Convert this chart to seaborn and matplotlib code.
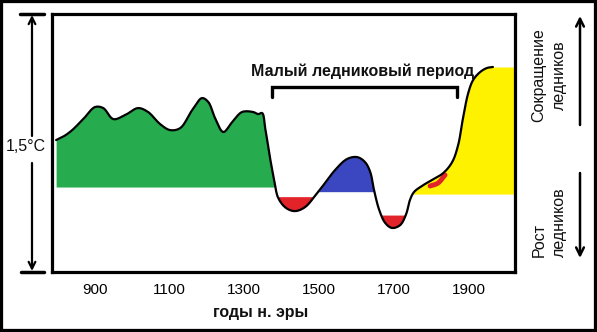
import numpy as np
import pandas as pd
import matplotlib
matplotlib.use("Agg")
import matplotlib.pyplot as plt
from matplotlib.lines import Line2D
from matplotlib.patches import FancyArrowPatch, Rectangle
import seaborn as sns

sns.set_style("white")
plt.rcParams["font.family"] = ["Liberation Sans", "DejaVu Sans"]

# Temperature curve (anomaly, °C) over the last millennium
years = [797, 819, 840, 872, 901, 923, 950, 982, 1016, 1043, 1075, 1102, 1129,
         1161, 1187, 1204, 1222, 1244, 1268, 1294, 1324, 1337, 1348, 1356, 1369,
         1380, 1391, 1412, 1436, 1463, 1489, 1516, 1543, 1575, 1602, 1623, 1637,
         1647, 1661, 1677, 1695, 1717, 1733, 1743, 1754, 1775, 1802, 1832, 1856,
         1872, 1885, 1899, 1912, 1931, 1949, 1965]
temp = [0.273, 0.297, 0.331, 0.401, 0.465, 0.459, 0.395, 0.419, 0.459, 0.436,
        0.366, 0.331, 0.343, 0.448, 0.517, 0.494, 0.401, 0.320, 0.378, 0.436,
        0.436, 0.424, 0.430, 0.343, 0.169, 0.041, -0.064, -0.122, -0.140, -0.116,
        -0.052, 0.023, 0.099, 0.163, 0.174, 0.145, 0.087, -0.017, -0.134, -0.209,
        -0.238, -0.221, -0.157, -0.076, -0.029, 0.006, 0.041, 0.081, 0.145, 0.244,
        0.401, 0.547, 0.622, 0.669, 0.692, 0.698]

# Short red streak near the start of the modern warming
streak_years = [1797, 1818, 1837]
streak_temp = [0.006, 0.023, 0.070]

tick_years = [900, 1100, 1300, 1500, 1700, 1900]

# Shaded episodes: (colour, from year, to year, reference level, fill above?)
green, red, blue, yellow = "#26ab4f", "#e2232a", "#3b46c1", "#fff200"
episodes = [
    (green, 780, 1400, 0.000, True),
    (red, 1380, 1500, -0.056, False),
    (blue, 1480, 1660, -0.027, True),
    (red, 1650, 1745, -0.163, False),
    (yellow, 1745, 2100, -0.041, True),
]

period_label = "Малый ледниковый период"
period_start, period_end = 1375, 1869


def smooth(xs, ys, n=10, sx=0.374, sy=172.0, alpha=0.5):
    """Centripetal Catmull-Rom curve through the given points."""
    P = np.column_stack([np.asarray(xs, float) * sx, np.asarray(ys, float) * sy])
    P = np.vstack([2 * P[0] - P[1], P, 2 * P[-1] - P[-2]])
    out = []
    for i in range(1, len(P) - 2):
        p0, p1, p2, p3 = P[i - 1:i + 3]
        t0 = 0.0
        t1 = t0 + np.linalg.norm(p1 - p0) ** alpha
        t2 = t1 + np.linalg.norm(p2 - p1) ** alpha
        t3 = t2 + np.linalg.norm(p3 - p2) ** alpha
        t = np.linspace(t1, t2, n, endpoint=False)[:, None]
        A1 = (t1 - t) / (t1 - t0) * p0 + (t - t0) / (t1 - t0) * p1
        A2 = (t2 - t) / (t2 - t1) * p1 + (t - t1) / (t2 - t1) * p2
        A3 = (t3 - t) / (t3 - t2) * p2 + (t - t2) / (t3 - t2) * p3
        B1 = (t2 - t) / (t2 - t0) * A1 + (t - t0) / (t2 - t0) * A2
        B2 = (t3 - t) / (t3 - t1) * A2 + (t - t1) / (t3 - t1) * A3
        out.append((t2 - t) / (t2 - t1) * B1 + (t - t1) / (t2 - t1) * B2)
    out.append(P[-2][None])
    C = np.vstack(out)
    return C[:, 0] / sx, C[:, 1] / sy


W, H = 597, 332
fig = plt.figure(figsize=(W / 100, H / 100), dpi=100)
ax = fig.add_axes([52 / W, 1 - 272 / H, 463 / W, 258 / H])
ax.set_xlim(786, 2024)
ax.set_ylim(-0.494, 1.006)

x, y = smooth(years, temp)
# the warm shading runs on to the right edge of the frame
x_ext = np.append(x, ax.get_xlim()[1])
y_ext = np.append(y, y[-1])

for color, a, b, level, above in episodes:
    inside = (x_ext >= a) & (x_ext <= b)
    cond = (y_ext > level) if above else (y_ext < level)
    ax.fill_between(x_ext, y_ext, level, where=inside & cond,
                    interpolate=True, color=color, lw=0, zorder=1)

curve = pd.DataFrame({"year": x, "temp": y})
sns.lineplot(data=curve, x="year", y="temp", estimator=None, sort=False,
             color="black", lw=1.6, ax=ax, zorder=3)
sx_, sy_ = smooth(streak_years, streak_temp)
ax.plot(sx_, sy_, color=red, lw=3.5, solid_capstyle="round", zorder=2)

# bracket over the Little Ice Age
tr = ax.get_xaxis_transform()
ax.plot([period_start, period_start, period_end, period_end],
        [0.678, 0.717, 0.717, 0.678], color="black", lw=2.4,
        transform=tr, solid_joinstyle="miter", zorder=4)
ax.text((period_start + period_end) / 2 - 6, 0.78, period_label,
        transform=tr, ha="center", va="center", fontsize=11.5,
        fontweight="bold", color="#111111")

ax.set_xticks(tick_years)
ax.set_xticklabels([str(t) for t in tick_years])
ax.set_yticks([])
ax.set_xlabel("")
ax.set_ylabel("")
ax.tick_params(axis="x", direction="in", length=5, width=2, colors="black",
               labelsize=11, pad=8)
for s in ax.spines.values():
    s.set_visible(True)
    s.set_color("black")
    s.set_linewidth(2.3)


def P(px, py):
    return (px / W, 1 - py / H)


fig.text(*P(261, 312), "годы н. эры", ha="center", va="center",
         fontsize=11.5, fontweight="bold", color="#111111")

# left scale bar: 1,5 °C over the frame height
for (xa, ya), (xb, yb) in [((32, 136), (32, 15)), ((32, 163), (32, 271))]:
    fig.add_artist(FancyArrowPatch(P(xa, ya), P(xb, yb),
                                   transform=fig.transFigure,
                                   arrowstyle="->", mutation_scale=12,
                                   lw=1.6, color="black",
                                   shrinkA=0, shrinkB=0))
for py, xa, xb in [(14, 20, 44), (272, 21, 44)]:
    fig.add_artist(Line2D([xa / W, xb / W], [1 - py / H] * 2,
                          transform=fig.transFigure, color="black", lw=2.5))
fig.text(*P(26, 147), "1,5°C", ha="center", va="center", fontsize=11.5,
         color="#111111")

# right side: glacier retreat / advance
fig.text(*P(549, 75), "Сокращение\nледников", rotation=90, ha="center",
         va="center", fontsize=11.5, linespacing=1.45, multialignment="center",
         color="#111111")
fig.text(*P(549, 222), "Рост\nледников", rotation=90, ha="center",
         va="center", fontsize=11.5, linespacing=1.45, multialignment="left",
         color="#111111")
fig.add_artist(FancyArrowPatch(P(580, 125), P(580, 16),
                               transform=fig.transFigure, arrowstyle="->",
                               mutation_scale=14, lw=1.8, color="black",
                               shrinkA=0, shrinkB=0))
fig.add_artist(FancyArrowPatch(P(580, 173), P(580, 258),
                               transform=fig.transFigure, arrowstyle="->",
                               mutation_scale=14, lw=1.8, color="black",
                               shrinkA=0, shrinkB=0))

# outer frame
fig.add_artist(Rectangle((0, 0), 1, 1, transform=fig.transFigure,
                         fill=False, edgecolor="black", lw=4.5))

fig.savefig("out.png", dpi=100)
